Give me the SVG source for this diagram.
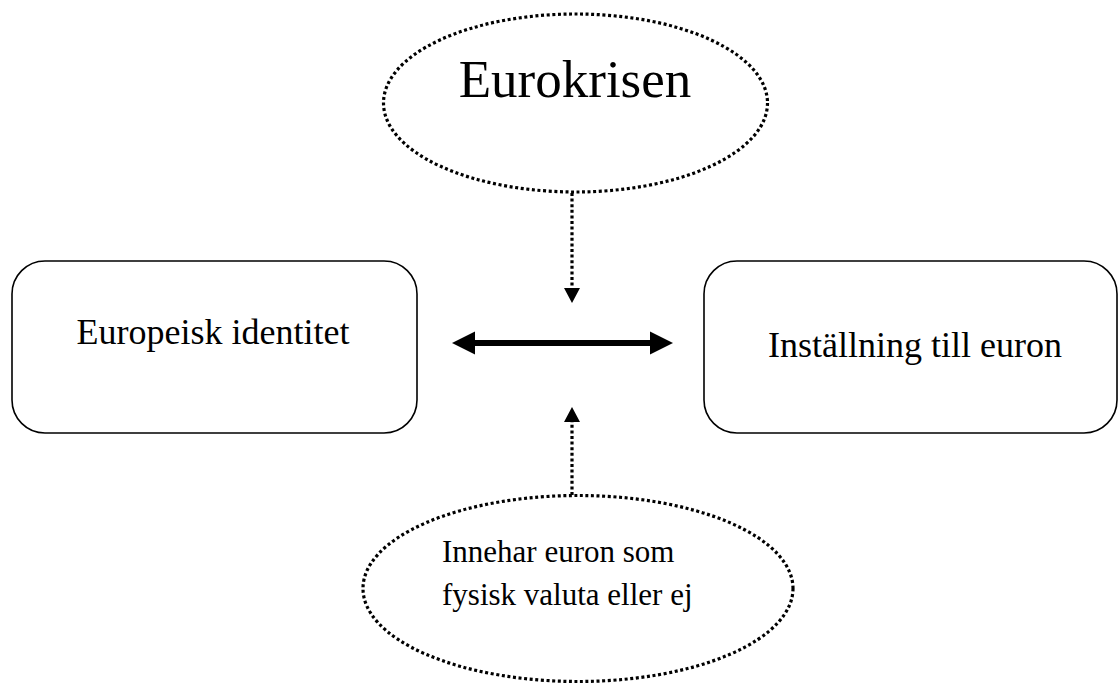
<svg xmlns="http://www.w3.org/2000/svg" width="1119" height="684" viewBox="0 0 1119 684">
<style>
.box{fill:#fff;stroke:#000;stroke-width:1.6}
.dot{fill:none;stroke:#000;stroke-width:3.2;stroke-dasharray:3 2.6}
.t{font-family:"Liberation Serif","Times New Roman",serif;fill:#000}
</style>
<rect width="1119" height="684" fill="#fff"/>
<g id="eurokrisen">
<ellipse class="dot" cx="575.5" cy="103" rx="192" ry="89"/>
<text class="t" x="575" y="97" font-size="53" text-anchor="middle">Eurokrisen</text>
</g>
<g id="europeisk">
<rect class="box" x="12" y="261" width="405" height="172" rx="33"/>
<text class="t" x="213" y="344" font-size="36" text-anchor="middle">Europeisk identitet</text>
</g>
<g id="installning">
<rect class="box" x="704" y="261" width="413" height="172" rx="33"/>
<text class="t" x="915" y="357" font-size="36" text-anchor="middle">Inställning till euron</text>
</g>
<g id="innehar">
<ellipse class="dot" cx="578" cy="588.5" rx="215" ry="93"/>
<text class="t" x="442" y="562" font-size="31">Innehar euron som</text>
<text class="t" x="442" y="605" font-size="31">fysisk valuta eller ej</text>
</g>
<g id="connectors">
<line class="dot" x1="572" y1="193" x2="572" y2="288"/>
<path d="M564,288 L580,288 L572,303 z"/>
<line class="dot" x1="572" y1="495" x2="572" y2="422"/>
<path d="M564,422 L580,422 L572,407 z"/>
<line x1="474" y1="343" x2="651" y2="343" stroke="#000" stroke-width="6"/>
<path d="M452,343 L475,331.5 L475,354.5 z"/>
<path d="M673,343 L650,331.5 L650,354.5 z"/>
</g>
</svg>
